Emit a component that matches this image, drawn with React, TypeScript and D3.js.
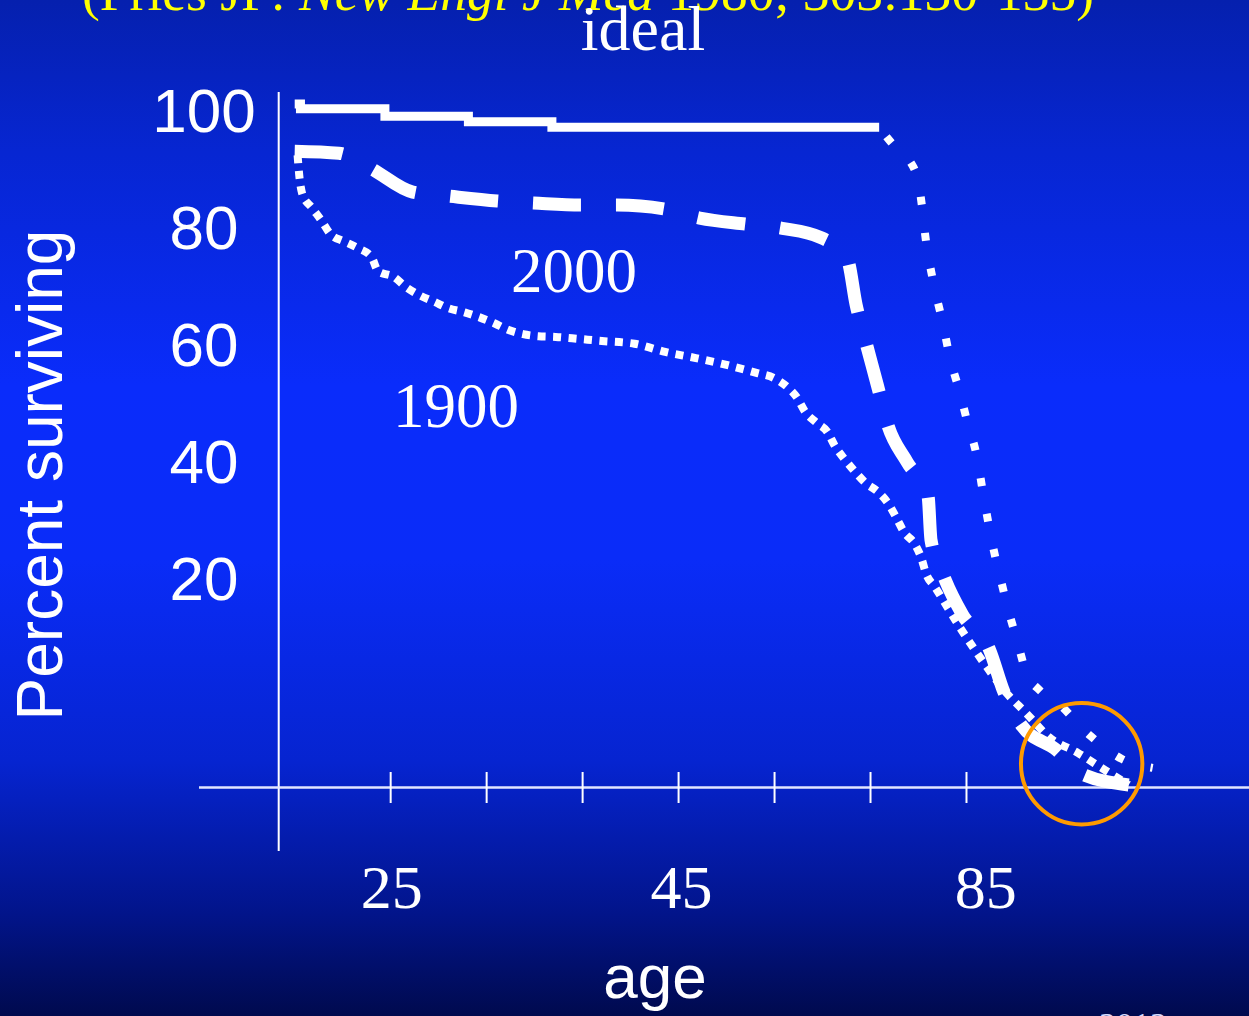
import React from 'react';
import * as d3 from 'd3';

const W = 1249;
const H = 1016;

// ideal (solid stepped part)
const idealAges = [0, 0.6, 9.4, 18.1, 26.8, 60.9];
const idealPct = [100, 99.3, 98.2, 97.4, 96.6, 96.6];
// ideal (dotted tail)
const idealTailAges = [60.9, 62.2, 64.0, 65.0, 65.4, 65.7, 66.5, 67.5, 68.3, 69.3, 70.1, 71.0, 71.9, 72.7, 73.6, 74.5, 75.4, 76.2, 77.6, 79.5, 82.9, 86.2, 89.4];
const idealTailPct = [96.6, 94.3, 91.9, 88.4, 84.6, 80.8, 74.2, 68.1, 62.7, 57.8, 53.4, 48.9, 41.6, 35.6, 30.2, 25.2, 20.8, 16.8, 14.2, 12.3, 7.5, 4.1, 2.8];

// 2000 curve (dashed)
const ages2000 = [0, 4.6, 7.9, 12.3, 16.1, 21.1, 24.9, 29.8, 33.6, 38.6, 42.2, 47.1, 50.8, 54.9, 57.6, 58.5, 59.5, 60.7, 61.8, 63.8, 66.0, 66.3, 67.7, 69.6, 72.4, 73.9, 75.7, 79.4, 81.9, 86.9];
const pct2000 = [93.1, 92.8, 90.6, 87.1, 86.5, 85.8, 85.5, 85.2, 85.2, 84.6, 83.3, 82.4, 81.8, 80.4, 77.2, 70.6, 65.2, 58.9, 53.0, 47.6, 42.5, 36.2, 30.6, 25.2, 20.1, 13.9, 9.1, 5.4, 2.0, 0.3];

// 1900 curve (dotted)
const ages1900 = [0.3, 0.5, 0.8, 1.8, 2.8, 3.7, 5.1, 6.6, 8.0, 8.7, 10.3, 11.6, 13.0, 14.6, 16.0, 17.7, 19.2, 20.8, 22.3, 23.8, 25.4, 27.2, 28.9, 32.0, 35.4, 38.6, 41.8, 45.0, 48.2, 49.9, 51.3, 52.3, 53.2, 54.4, 55.5, 56.3, 57.3, 58.3, 59.5, 60.8, 61.9, 62.7, 63.5, 64.6, 65.3, 65.8, 66.7, 69.3, 72.1, 73.9, 76.3, 78.6, 81.6, 84.4, 86.9];
const pct1900 = [92.5, 89.2, 86.8, 84.8, 82.9, 81.0, 79.9, 78.9, 77.6, 75.5, 74.7, 73.2, 72.0, 71.0, 70.1, 69.5, 68.8, 67.9, 66.9, 66.3, 66.0, 65.9, 65.7, 65.3, 64.9, 63.7, 62.8, 61.8, 60.6, 59.9, 58.6, 57.1, 54.9, 53.3, 52.0, 49.9, 48.0, 46.3, 44.5, 43.2, 41.4, 39.4, 37.3, 35.6, 33.5, 31.2, 29.3, 23.4, 17.6, 14.2, 10.7, 7.3, 5.0, 2.5, 0.3];

// axis ticks / labels
const xTickAges = [10, 20, 30, 40, 50, 60, 70];
const xLabels = ['25', '45', '85'];
const xLabelAt = [10.1, 40.3, 72.0];
const yLabels = [100, 80, 60, 40, 20];

// annotation circle (age, pct)
const circleAt = [82.0, 3.4];

const zip = (a: number[], b: number[]) => a.map((v, i) => [v, b[i]] as [number, number]);

export default function App() {
  const x = d3.scaleLinear().domain([0, 100]).range([294.7, 1254.4]);
  const y = d3.scaleLinear().domain([0, 100]).range([787, 104]);
  const yLab = d3.scaleLinear().domain([20, 100]).range([600, 132]);

  const smooth = d3
    .line<[number, number]>()
    .x((d) => x(d[0]))
    .y((d) => y(d[1]))
    .curve(d3.curveMonotoneX);
  const step = d3
    .line<[number, number]>()
    .x((d) => x(d[0]))
    .y((d) => y(d[1]))
    .curve(d3.curveStepAfter);

  const serif = '"Liberation Serif", "Times New Roman", serif';
  const sans = '"Liberation Sans", Arial, sans-serif';

  return (
    <svg
      width={W}
      height={H}
      style={{ position: 'absolute', left: 0, top: 0, display: 'block' }}
    >
      <defs>
        <linearGradient id="bg" x1="0" y1="0" x2="0" y2="1">
          <stop offset="0" stopColor="#0520ae" />
          <stop offset="0.15" stopColor="#0726d2" />
          <stop offset="0.38" stopColor="#0a2cfb" />
          <stop offset="0.55" stopColor="#0a2cf8" />
          <stop offset="0.75" stopColor="#0624d0" />
          <stop offset="0.9" stopColor="#02148a" />
          <stop offset="1" stopColor="#000a4e" />
        </linearGradient>
      </defs>
      <rect x={0} y={0} width={W} height={H} fill="url(#bg)" />

      {/* title */}
      <text x={82} y={10} fill="#ffff00" fontFamily={serif} fontSize={53.5}>
        (Fries JF: <tspan fontStyle="italic">New Engl J Med</tspan> 1980; 303:130-135)
      </text>
      <text x={643} y={50} fill="#fff" fontFamily={serif} fontSize={64} textAnchor="middle">
        ideal
      </text>

      {/* axes */}
      <line x1={278.7} x2={278.7} y1={92} y2={851} stroke="#fff" strokeWidth={2} />
      <line x1={199} x2={W} y1={787.5} y2={787.5} stroke="#e2e6ff" strokeWidth={2.5} />
      {xTickAges.map((a) => (
        <line key={a} x1={x(a)} x2={x(a)} y1={772} y2={803} stroke="#fff" strokeWidth={2} />
      ))}

      {/* y labels */}
      {yLabels.map((v) => (
        <text key={v} x={204} y={yLab(v)} fill="#fff" fontFamily={sans} fontSize={62} textAnchor="middle">
          {v}
        </text>
      ))}
      <text
        transform={`translate(62,475) rotate(-90)`}
        fill="#fff"
        fontFamily={sans}
        fontSize={64}
        textAnchor="middle"
      >
        Percent surviving
      </text>

      {/* x labels */}
      {xLabels.map((t, i) => (
        <text key={t} x={x(xLabelAt[i])} y={908} fill="#fff" fontFamily={serif} fontSize={62} textAnchor="middle">
          {t}
        </text>
      ))}
      <text x={655} y={998} fill="#fff" fontFamily={sans} fontSize={62} textAnchor="middle">
        age
      </text>

      {/* curves */}
      <path d={step(zip(idealAges, idealPct)) || ''} fill="none" stroke="#fff" strokeWidth={9} />
      <path
        d={smooth(zip(idealTailAges, idealTailPct)) || ''}
        fill="none"
        stroke="#fff"
        strokeWidth={8}
        strokeDasharray="8 28"
        strokeDashoffset={-12}
      />
      <path
        d={smooth(zip(ages2000, pct2000)) || ''}
        fill="none"
        stroke="#fff"
        strokeWidth={13}
        strokeDasharray="48 35"
      />
      <path
        d={smooth(zip(ages1900, pct1900)) || ''}
        fill="none"
        stroke="#fff"
        strokeWidth={8}
        strokeDasharray="8 7.5"
      />

      {/* curve labels */}
      <text x={574} y={292} fill="#fff" fontFamily={serif} fontSize={63} textAnchor="middle">
        2000
      </text>
      <text x={456} y={427} fill="#fff" fontFamily={serif} fontSize={63} textAnchor="middle">
        1900
      </text>

      {/* annotation circle */}
      <circle cx={x(circleAt[0])} cy={y(circleAt[1])} r={60.7} fill="none" stroke="#ff9a00" strokeWidth={4} />

      <text x={1133} y={1036} fill="#d8dcff" fontFamily={serif} fontSize={34} textAnchor="middle">
        2012
      </text>
    </svg>
  );
}
